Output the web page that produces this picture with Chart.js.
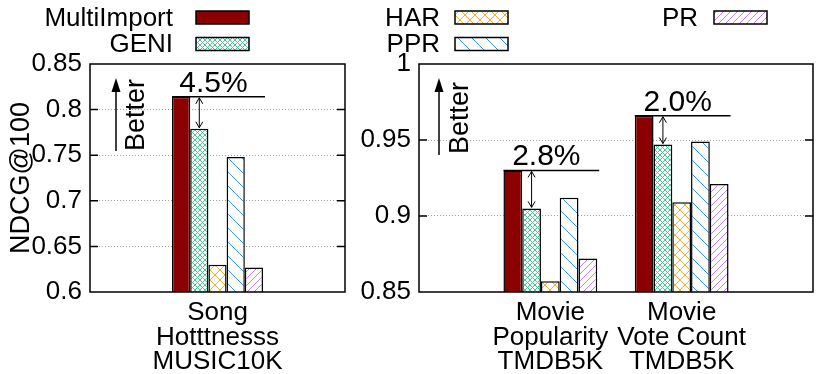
<!DOCTYPE html>
<html>
<head>
<meta charset="utf-8">
<script src="https://cdn.jsdelivr.net/npm/chart.js@4"></script>
<style>
  body { margin: 0; background: #fff; }
  #wrap { position: relative; width: 822px; height: 374px; }
  #wrap canvas { position: absolute; left: 0; top: 0; }
</style>
</head>
<body>
<div id="wrap">
  <canvas id="songChart" width="822" height="374"></canvas>
  <canvas id="movieChart" width="822" height="374"></canvas>
</div>
<script>
// valeurs
const methodNames = ['MultiImport', 'GENI', 'HAR', 'PPR', 'PR'];

const songCategories = [['Song', 'Hotttnesss', 'MUSIC10K']];
const songMultiImport = [0.814];
const songGeni = [0.779];
const songHar = [0.630];
const songPpr = [0.748];
const songPr = [0.627];
const songGain = ['4.5%'];
const songTicks = [0.6, 0.65, 0.7, 0.75, 0.8, 0.85];

const movieCategories = [['Movie', 'Popularity', 'TMDB5K'], ['Movie', 'Vote Count', 'TMDB5K']];
const movieMultiImport = [0.930, 0.966];
const movieGeni = [0.905, 0.947];
const movieHar = [0.857, 0.909];
const moviePpr = [0.912, 0.949];
const moviePr = [0.872, 0.921];
const movieGain = ['2.8%', '2.0%'];
const movieTicks = [0.85, 0.9, 0.95, 1];

const FONT = "'Liberation Sans', Arial, Helvetica, sans-serif";
Chart.defaults.font.family = FONT;
Chart.defaults.color = '#000';

// motif de hachures
function hatch(color, kind) {
  const s = {dense: 5, cross: 10, back: 14, fwd: 7}[kind];
  const c = document.createElement('canvas');
  c.width = s; c.height = s;
  const g = c.getContext('2d');
  g.fillStyle = '#fff';
  g.fillRect(0, 0, s, s);
  g.strokeStyle = color;
  g.lineWidth = 1;
  g.beginPath();
  for (const k of [-s, 0, s]) {
    if (kind !== 'fwd') { g.moveTo(k, 0); g.lineTo(k + s, s); }
    if (kind !== 'back') { g.moveTo(k, s); g.lineTo(k + s, 0); }
  }
  g.stroke();
  return g.createPattern(c, 'repeat');
}

const methodFills = [
  '#8b0000',
  hatch('#4cc596', 'dense'),
  hatch('#f0b030', 'cross'),
  hatch('#3a98d8', 'back'),
  hatch('#c884ec', 'fwd')
];

function buildDatasets(series) {
  return series.map((vals, i) => ({
    label: methodNames[i],
    data: [null, ...vals, null],
    backgroundColor: methodFills[i],
    borderColor: '#000',
    borderWidth: 1.5,
    borderSkipped: false,
    categoryPercentage: 0.714,
    barPercentage: 1
  }));
}

function arrowHead(ctx, x, y, dir, filled) {
  // dir = -1 pointe vers le haut, 1 vers le bas
  ctx.beginPath();
  if (filled) {
    ctx.moveTo(x, y);
    ctx.lineTo(x - 4.5, y - dir * 14);
    ctx.lineTo(x + 4.5, y - dir * 14);
    ctx.closePath();
    ctx.fill();
  } else {
    ctx.moveTo(x - 3.5, y - dir * 6);
    ctx.lineTo(x, y);
    ctx.lineTo(x + 3.5, y - dir * 6);
    ctx.stroke();
  }
}

const framePlugin = {
  id: 'frame',
  afterDatasetsDraw(chart, args, opts) {
    const ctx = chart.ctx;
    const a = chart.chartArea;
    const y = chart.scales.y;
    ctx.save();
    ctx.strokeStyle = '#000';
    ctx.fillStyle = '#000';
    ctx.lineWidth = 1.5;
    ctx.strokeRect(a.left, a.top, a.right - a.left, a.bottom - a.top);

    // petites graduations vers l'intérieur
    ctx.beginPath();
    y.ticks.forEach(t => {
      if (t.value <= y.min || t.value >= y.max) return;
      const py = y.getPixelForValue(t.value);
      ctx.moveTo(a.left, py); ctx.lineTo(a.left + 8, py);
      ctx.moveTo(a.right - 8, py); ctx.lineTo(a.right, py);
    });
    ctx.stroke();

    // gains de MultiImport sur GENI
    const n = chart.data.datasets.length;
    ctx.font = '30px ' + FONT;
    ctx.textAlign = 'center';
    ctx.textBaseline = 'alphabetic';
    (opts.gains || []).forEach((txt, i) => {
      const idx = i + 1;
      const m0 = chart.getDatasetMeta(0).data[idx];
      const m1 = chart.getDatasetMeta(1).data[idx];
      const mL = chart.getDatasetMeta(n - 1).data[idx];
      const x0 = m0.x - m0.width / 2;
      const x1 = mL.x + mL.width / 2 + 2;
      ctx.lineWidth = 1.5;
      ctx.beginPath();
      ctx.moveTo(x0, m0.y); ctx.lineTo(x1, m0.y);
      ctx.stroke();
      ctx.lineWidth = 1;
      ctx.beginPath();
      ctx.moveTo(m1.x, m0.y + 1); ctx.lineTo(m1.x, m1.y - 1);
      ctx.stroke();
      arrowHead(ctx, m1.x, m0.y + 1, -1, false);
      arrowHead(ctx, m1.x, m1.y - 1, 1, false);
      ctx.fillText(txt, (x0 + x1) / 2 - 5, m0.y - 5);
    });

    // flèche "Better"
    const b = opts.better;
    if (b) {
      const bx = a.left + b.x;
      ctx.lineWidth = 1.5;
      ctx.beginPath();
      ctx.moveTo(bx, a.top + b.tip + 10); ctx.lineTo(bx, a.top + b.end);
      ctx.stroke();
      arrowHead(ctx, bx, a.top + b.tip, -1, true);
      ctx.save();
      ctx.font = '27px ' + FONT;
      ctx.translate(a.left + b.tx, a.top + b.ty);
      ctx.rotate(-Math.PI / 2);
      ctx.textBaseline = 'middle';
      ctx.fillText('Better', 0, 0);
      ctx.restore();
    }

    // légende façon gnuplot
    const lg = opts.legend;
    if (lg) {
      ctx.font = '26px ' + FONT;
      ctx.textAlign = 'right';
      ctx.textBaseline = 'middle';
      chart.data.datasets.forEach((ds, i) => {
        const col = lg.cols[Math.floor(i / 2)];
        const cy = lg.rows[i % 2];
        ctx.fillText(ds.label, col[0], cy + 1);
        ctx.fillStyle = ds.backgroundColor;
        ctx.fillRect(col[1], cy - lg.box[1] / 2, lg.box[0], lg.box[1]);
        ctx.fillStyle = '#000';
        ctx.lineWidth = 1.5;
        ctx.strokeRect(col[1], cy - lg.box[1] / 2, lg.box[0], lg.box[1]);
      });
    }
    ctx.restore();
  }
};

function makeChart(id, categories, series, ticks, gains, cfg) {
  const lo = ticks[0], hi = ticks[ticks.length - 1];
  return new Chart(document.getElementById(id), {
    type: 'bar',
    data: {
      labels: ['', ...categories, ''],
      datasets: buildDatasets(series)
    },
    options: {
      responsive: false,
      animation: false,
      events: [],
      layout: { padding: cfg.padding },
      plugins: {
        legend: { display: false },
        tooltip: { enabled: false },
        frame: { gains: gains, better: cfg.better, legend: cfg.legend }
      },
      scales: {
        x: {
          offset: false,
          grid: { display: false, drawTicks: false },
          border: { display: false },
          ticks: { autoSkip: false, maxRotation: 0, padding: 9, font: { size: 26, lineHeight: 0.94 } },
          afterFit: s => { s.height = 82; }
        },
        y: {
          min: lo,
          max: hi,
          afterBuildTicks: s => { s.ticks = ticks.map(v => ({ value: v })); },
          grid: {
            drawTicks: false,
            lineWidth: 1,
            color: c => (c.tick && (c.tick.value === lo || c.tick.value === hi)) ? 'rgba(0,0,0,0)' : '#a0a0a0'
          },
          border: { display: false, dash: [1, 2] },
          ticks: { padding: 8, font: { size: 26 }, callback: v => String(v) },
          title: cfg.yTitle
            ? { display: true, text: cfg.yTitle, font: { size: 27 }, padding: { top: 5, bottom: 0 } }
            : { display: false },
          afterFit: s => { s.width = cfg.yWidth; }
        }
      }
    },
    plugins: [framePlugin]
  });
}

makeChart('songChart', songCategories,
  [songMultiImport, songGeni, songHar, songPpr, songPr], songTicks, songGain, {
    padding: { left: 0, right: 477, top: 64, bottom: 0 },
    yWidth: 90,
    yTitle: 'NDCG@100',
    better: { x: 26, tip: 14, end: 87, tx: 47, ty: 51 },
    legend: { cols: [[173, 196], [440, 455], [698, 714]], rows: [17.5, 44], box: [53, 13] }
  });

makeChart('movieChart', movieCategories,
  [movieMultiImport, movieGeni, movieHar, moviePpr, moviePr], movieTicks, movieGain, {
    padding: { left: 352, right: 8, top: 64, bottom: 0 },
    yWidth: 67,
    better: { x: 20, tip: 14, end: 91, tx: 42, ty: 54 }
  });
</script>
</body>
</html>
